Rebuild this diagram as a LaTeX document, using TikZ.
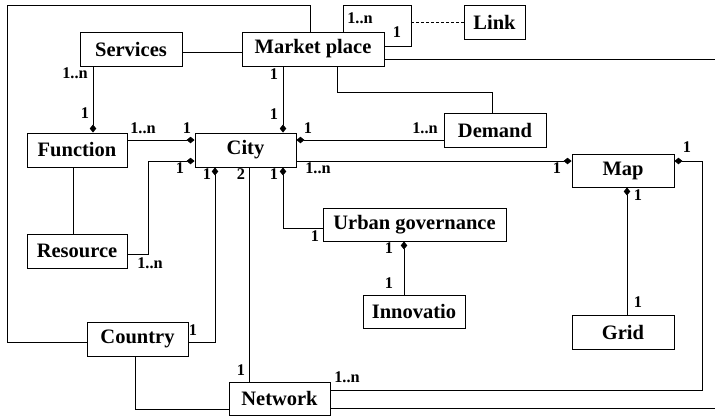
\documentclass[tikz,border=0pt]{standalone}
\usepackage{fontspec}
\setmainfont{Liberation Serif}
\usetikzlibrary{arrows.meta}
\begin{document}
\begin{tikzpicture}[x=1pt,y=-1pt,
 box/.style={draw, line width=0.9pt, minimum height=34pt, inner sep=0pt, font=\fontsize{20.5}{24}\selectfont\bfseries},
 lbl/.style={inner sep=0pt, font=\fontsize{16.3}{18}\selectfont\bfseries},
 conn/.style={line width=0.9pt},
 endd/.style={conn, -{Diamond[length=8pt,width=6.5pt]}},
 startd/.style={conn, {Diamond[length=8pt,width=6.5pt]}-},
]
\useasboundingbox (0,0) rectangle (715,416);
% boxes
\node[box, minimum width=102pt] (Services) at (131,49) {Services};
\node[box, minimum width=142pt] (Market) at (313,49) {Market place};
\node[box, minimum width=61pt] (Link) at (494.5,22) {Link};
\node[box, minimum width=100pt] (Function) at (77,150) {Function};
\node[box, minimum width=101pt] (City) at (245.5,150) {City};
\node[box, minimum width=102pt] (Demand) at (495,130) {Demand};
\node[box, minimum width=100pt] (Resource) at (77,251) {Resource};
\node[box, minimum width=102pt, minimum height=33pt] (Map) at (623,170.5) {Map};
\node[box, minimum width=183pt, minimum height=33pt] (Urban) at (414.5,224.5) {Urban governance};
\node[box, minimum width=102pt, minimum height=33pt] (Innov) at (414,311.5) {Innovatio};
\node[box, minimum width=102pt] (Grid) at (623,332) {Grid};
\node[box, minimum width=101pt] (Country) at (137.5,339) {Country};
\node[box, minimum width=101pt, minimum height=33pt] (Network) at (279.5,398.5) {Network};
% helper coordinates
\coordinate (tl) at (7,5);
\coordinate (lp1) at (343,5);
\coordinate (lp2) at (411,5);
\coordinate (lp3) at (411,46);
\coordinate (dl) at (411,22);
\coordinate (re) at (715,59);
\coordinate (dm2) at (492,92);
\coordinate (rs) at (148,161);
\coordinate (nr) at (702,161);
\coordinate (ne) at (715,408);
% connectors
\draw[conn] ([xshift=-3pt]Market.north) |- (tl) |- ([yshift=-3pt]Country.west);
\draw[conn] (Market.north -| lp1) -- (lp1) -- (lp2) -- (lp3) -- (Market.east |- lp3);
\draw[conn, dash pattern=on 3pt off 2pt, line width=0.7pt] (dl) -- (Link.west);
\draw[conn] (Market.east |- re) -- (re);
\draw[conn] ([yshift=-3pt]Services.east) -- ([yshift=-3pt]Market.west);
\draw[endd] ([xshift=-38pt]Services.south) -- ([xshift=16pt]Function.north);
\draw[endd] ([xshift=-30pt]Market.south) -- ([xshift=37.5pt]City.north);
\draw[conn] ([xshift=24pt]Market.south) |- (dm2) -- ([xshift=-3pt]Demand.north);
\draw[endd] ([yshift=-10pt]Demand.west) -- ([yshift=10pt]City.east);
\draw[endd] ([yshift=10pt]Function.east) -- ([yshift=10pt]City.west);
\draw[endd] ([yshift=-3pt]Resource.east) -| (rs) -- ([yshift=-11pt]City.west);
\draw[conn] ([xshift=-4pt]Function.south) -- ([xshift=-4pt]Resource.north);
\draw[startd] ([xshift=-30.5pt]City.south) |- ([yshift=-3pt]Country.east);
\draw[conn] ([xshift=3.5pt]City.south) -- ([xshift=-30.5pt]Network.north);
\draw[startd] ([xshift=37.5pt]City.south) |- ([yshift=-3.5pt]Urban.west);
\draw[endd] ([yshift=-11pt]City.east) -- ([yshift=9.5pt]Map.west);
\draw[startd] ([xshift=4pt]Map.south) -- ([xshift=4pt]Grid.north);
\draw[endd] ([yshift=8.5pt]Network.east) -| (nr) -- ([yshift=9.5pt]Map.east);
\draw[conn] ([yshift=-9.5pt]Network.east) -- (ne);
\draw[conn] ([xshift=-2.5pt]Country.south) |- ([yshift=-10.5pt]Network.west);
\draw[startd] ([xshift=-10.5pt]Urban.south) -- ([xshift=-10pt]Innov.north);
% multiplicity labels
\node[lbl] (l1) at (360,18) {1..n};
\node[lbl] (l2) at (397,32) {1};
\node[lbl] (l3) at (75,73) {1..n};
\node[lbl] (l4) at (85,113) {1};
\node[lbl] (l5) at (274,74) {1};
\node[lbl] (l6) at (274,114) {1};
\node[lbl] (l7) at (143,128) {1..n};
\node[lbl] (l8) at (187,128) {1};
\node[lbl] (l9) at (308,128) {1};
\node[lbl] (l10) at (425,128) {1..n};
\node[lbl] (l11) at (180,168) {1};
\node[lbl] (l12) at (150,263) {1..n};
\node[lbl] (l13) at (207,174) {1};
\node[lbl] (l14) at (241,174) {2};
\node[lbl] (l15) at (274,174) {1};
\node[lbl] (l16) at (318,168) {1..n};
\node[lbl] (l17) at (315,236) {1};
\node[lbl] (l18) at (557,168) {1};
\node[lbl] (l19) at (687,147) {1};
\node[lbl] (l20) at (638,195) {1};
\node[lbl] (l21) at (389,248) {1};
\node[lbl] (l22) at (389,283) {1};
\node[lbl] (l23) at (638,302) {1};
\node[lbl] (l24) at (193,330) {1};
\node[lbl] (l25) at (241,370) {1};
\node[lbl] (l26) at (347,377) {1..n};
\end{tikzpicture}
\end{document}
